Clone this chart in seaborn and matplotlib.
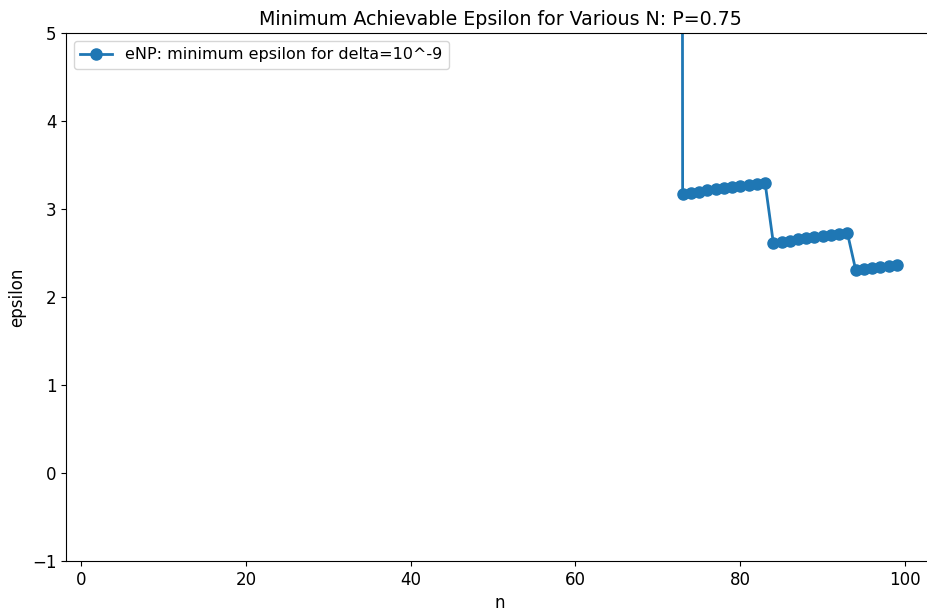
import matplotlib
matplotlib.use("Agg")
import matplotlib.pyplot as plt
import seaborn as sns
import pandas as pd

# n values and the minimum epsilon reachable at delta = 1e-9 (n=72 is far above the plotted range)
n_values = [72,
            73, 74, 75, 76, 77, 78, 79, 80, 81, 82, 83,
            84, 85, 86, 87, 88, 89, 90, 91, 92, 93,
            94, 95, 96, 97, 98, 99]
epsilon_values = [100.0,
                  3.170, 3.185, 3.198, 3.212, 3.225, 3.238, 3.251, 3.263, 3.276, 3.288, 3.300,
                  2.617, 2.630, 2.642, 2.654, 2.666, 2.678, 2.690, 2.701, 2.712, 2.724,
                  2.307, 2.318, 2.329, 2.339, 2.350, 2.360]
series_label = "eNP: minimum epsilon for delta=10^-9"
title_text = "Minimum Achievable Epsilon for Various N: P=0.75"

df = pd.DataFrame({"n": n_values, "epsilon": epsilon_values})

plt.rcParams["font.family"] = ["DejaVu Sans"]
plt.rcParams["font.size"] = 12

fig = plt.figure(figsize=(9.28, 6.10), dpi=100)
ax = fig.add_axes([66 / 928, 1 - 561 / 610, (934 - 66) / 928, (561 - 33) / 610])

line_color = "#1f77b4"
sns.lineplot(data=df, x="n", y="epsilon", marker="o", markersize=8,
             markeredgecolor=line_color, markeredgewidth=1,
             linewidth=2, color=line_color,
             label=series_label, ax=ax)

ax.set_xlim(-1.82, 103.5)
ax.set_ylim(-1, 5)
ax.set_xticks([0, 20, 40, 60, 80, 100])
ax.set_yticks([-1, 0, 1, 2, 3, 4, 5])
ax.set_xlabel("n", fontsize=12)
ax.set_ylabel("epsilon", fontsize=12)
ax.set_title(title_text, fontsize=13.7)
ax.tick_params(labelsize=12)
ax.legend(loc="upper left", fontsize=11.5)

fig.savefig("out.png", dpi=100)
